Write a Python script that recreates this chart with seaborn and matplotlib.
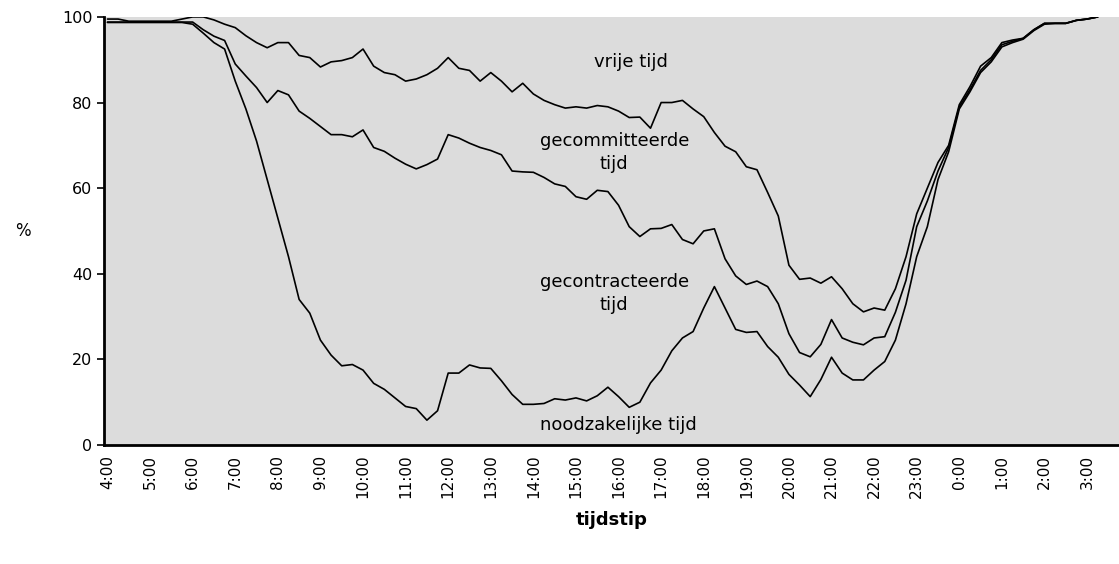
import numpy as np
import pandas as pd
import matplotlib
matplotlib.use("Agg")
import matplotlib.pyplot as plt
import seaborn as sns

# cumulative percentages per quarter hour, starting 4:00
noodzakelijk_gecontracteerd_gecommitteerd = [
    99.5, 99.5, 99, 99, 99, 99, 99, 99.5, 100, 100,
    99.3, 98.3, 97.5, 95.6, 94, 92.8, 94, 94, 91, 90.5,
    88.3, 89.5, 89.8, 90.5, 92.5, 88.5, 87, 86.5, 85, 85.5,
    86.5, 88, 90.5, 88, 87.5, 85, 87, 85, 82.5, 84.5,
    82, 80.5, 79.5, 78.7, 79, 78.7, 79.3, 79, 78, 76.5,
    76.6, 74, 80, 80, 80.5, 78.5, 76.7, 73, 69.8, 68.5,
    65, 64.3, 59, 53.5, 42, 38.7, 39, 37.8, 39.3, 36.5,
    33, 31.1, 32, 31.5, 36.5, 44, 54, 60, 66, 70,
    79.5, 83.7, 88.5, 90.5, 94, 94.6, 95, 97, 98.5, 98.5,
    98.5, 99.2, 99.5, 100,
]
noodzakelijk_gecontracteerd = [
    98.8, 98.8, 98.8, 98.8, 98.8, 98.8, 98.8, 98.8, 98.8, 97,
    95.5, 94.5, 89, 86.2, 83.5, 80, 82.8, 81.8, 78, 76.3,
    74.4, 72.5, 72.5, 72, 73.6, 69.5, 68.6, 67, 65.6, 64.5,
    65.5, 66.8, 72.5, 71.7, 70.5, 69.5, 68.8, 67.8, 64, 63.8,
    63.7, 62.5, 61, 60.4, 58, 57.4, 59.5, 59.2, 56, 51,
    48.7, 50.5, 50.6, 51.5, 48, 47, 50, 50.5, 43.5, 39.5,
    37.5, 38.3, 37, 33, 26, 21.6, 20.6, 23.5, 29.3, 25,
    24, 23.4, 25, 25.3, 31, 38.5, 51, 57, 64, 69.5,
    79, 83, 87.5, 90, 93.5, 94.3, 95, 97, 98.5, 98.5,
    98.5, 99.2, 99.5, 100,
]
noodzakelijk = [
    98.7, 98.7, 98.7, 98.7, 98.7, 98.7, 98.7, 98.7, 98.3, 96.2,
    94, 92.5, 85, 78.5, 71, 62, 53, 44, 34, 30.8,
    24.5, 21, 18.5, 18.8, 17.5, 14.4, 13, 11, 9, 8.5,
    5.8, 8, 16.8, 16.8, 18.7, 18, 17.9, 15, 11.8, 9.5,
    9.5, 9.7, 10.8, 10.5, 11, 10.3, 11.5, 13.5, 11.3, 8.8,
    10, 14.5, 17.5, 22, 25, 26.5, 32, 37, 32, 27,
    26.3, 26.5, 23, 20.5, 16.5, 14, 11.3, 15.3, 20.5, 16.8,
    15.2, 15.2, 17.5, 19.5, 24.5, 33, 44, 51, 62, 68.5,
    78.5, 82.5, 87, 89.5, 93, 94, 94.8, 96.8, 98.3, 98.5,
    98.5, 99.2, 99.5, 100,
]
tick_labels = ["4:00", "5:00", "6:00", "7:00", "8:00", "9:00", "10:00", "11:00",
               "12:00", "13:00", "14:00", "15:00", "16:00", "17:00", "18:00",
               "19:00", "20:00", "21:00", "22:00", "23:00", "0:00", "1:00",
               "2:00", "3:00"]
region_labels = ["vrije tijd", "gecommitteerde\ntijd",
                 "gecontracteerde\ntijd", "noodzakelijke tijd"]

hours = 4 + 0.25 * np.arange(len(noodzakelijk))
df = pd.concat([
    pd.DataFrame({"uur": hours, "pct": noodzakelijk_gecontracteerd_gecommitteerd, "lijn": "a"}),
    pd.DataFrame({"uur": hours, "pct": noodzakelijk_gecontracteerd, "lijn": "b"}),
    pd.DataFrame({"uur": hours, "pct": noodzakelijk, "lijn": "c"}),
])

sns.set_theme(style="white")
plt.rcParams["font.family"] = ["DejaVu Sans"]
plt.rcParams["text.color"] = "black"
plt.rcParams["axes.labelcolor"] = "black"
plt.rcParams["xtick.color"] = "black"
plt.rcParams["ytick.color"] = "black"

fig = plt.figure(figsize=(11.19, 5.64), dpi=100)
ax = fig.add_axes([0.093, 0.211, 0.907, 0.759])
ax.set_facecolor("#dcdcdc")

sns.lineplot(data=df, x="uur", y="pct", hue="lijn", units="lijn", estimator=None,
             palette=["black"] * 3, linewidth=1.2, legend=False, ax=ax)

ax.set_xlim(3.92, 27.75)
ax.set_ylim(0, 100)
ax.set_xticks(4 + np.arange(len(tick_labels)))
ax.set_xticklabels(tick_labels, rotation=90, fontsize=11)
ax.set_yticks([0, 20, 40, 60, 80, 100])
ax.tick_params(axis="y", labelsize=11.5, length=5, width=1.2, direction="out", left=True)
ax.tick_params(axis="x", length=0, pad=7)

for side in ["top", "right"]:
    ax.spines[side].set_visible(False)
for side in ["left", "bottom"]:
    ax.spines[side].set_color("black")
    ax.spines[side].set_linewidth(2)

ax.set_xlabel("tijdstip", fontsize=13, fontweight="bold", labelpad=9)
ax.set_ylabel("%", fontsize=12, rotation=0, labelpad=28, va="center")

label_pos = [(16.3, 89.5), (15.9, 68.3), (15.9, 35.3), (16.0, 4.7)]
for txt, (hx, vy) in zip(region_labels, label_pos):
    ax.text(hx, vy, txt, ha="center", va="center", fontsize=13, linespacing=1.35)

fig.savefig("out.png", dpi=100)
